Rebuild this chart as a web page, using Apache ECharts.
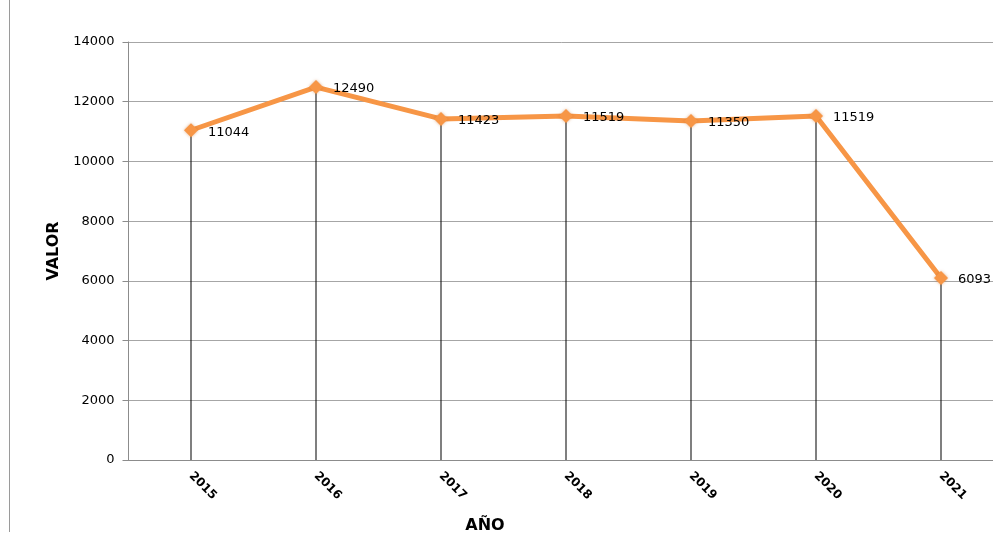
<!DOCTYPE html>
<html><head><meta charset="utf-8">
<script src="https://cdn.jsdelivr.net/npm/echarts@6/dist/echarts.min.js"></script>
<style>html,body{margin:0;padding:0;background:#fff}#c{width:993px;height:535px}</style>
</head><body><div id="c"></div>
<script>
const years = ['2015','2016','2017','2018','2019','2020','2021'];
const values = [11044, 12490, 11423, 11519, 11350, 11519, 6093];
const yTicks = [0, 2000, 4000, 6000, 8000, 10000, 12000, 14000];

const chart = echarts.init(document.getElementById('c'));
chart.setOption({
  animation: false,
  graphic: [{type:'line', shape:{x1:9.5,y1:0,x2:9.5,y2:532}, style:{stroke:'#9a9a9a', lineWidth:1}}],
  grid: {left: 128.5, top: 42, width: 875, height: 418, containLabel: false, outerBoundsMode: 'none'},
  xAxis: {
    type: 'category', data: years, boundaryGap: true,
    axisLine: {lineStyle: {color: '#8c8c8c', width: 1}},
    axisTick: {show: false},
    axisLabel: {rotate: -45, margin: 14, fontFamily: 'DejaVu Sans', fontWeight: 'bold', fontSize: 12, color: '#000'},
    name: 'AÑO', nameLocation: 'middle', nameGap: 58,
    nameTextStyle: {fontFamily: 'DejaVu Sans', fontWeight: 'bold', fontSize: 16, color: '#000', padding: [0, 162, 0, 0]}
  },
  yAxis: {
    type: 'value', min: yTicks[0], max: yTicks[yTicks.length-1], interval: 2000,
    axisLine: {show: true, lineStyle: {color: '#8c8c8c', width: 1}},
    axisTick: {show: true, length: 6, lineStyle: {color: '#8c8c8c'}},
    splitLine: {lineStyle: {color: '#a6a6a6', width: 1}},
    axisLabel: {margin: 14, fontFamily: 'DejaVu Sans', fontSize: 13, color: '#000', formatter: v => String(v)},
    name: 'VALOR', nameLocation: 'middle', nameGap: 67, nameRotate: 90,
    nameTextStyle: {fontFamily: 'DejaVu Sans', fontWeight: 'bold', fontSize: 16, color: '#000'}
  },
  series: [
    {type: 'bar', data: values, barWidth: 1, itemStyle: {color: '#000'}, z: 1, silent: true},
    {type: 'line', data: values, z: 3,
     lineStyle: {color: '#F79646', width: 5},
     symbol: 'diamond', symbolSize: 14,
     itemStyle: {color: '#F79646', shadowColor: 'rgba(200,100,20,0.5)', shadowBlur: 3},
     label: {show: true, position: 'right', distance: 10, offset: [0, 2], fontFamily: 'DejaVu Sans', fontSize: 13, color: '#000'}
    }
  ]
});
</script></body></html>
